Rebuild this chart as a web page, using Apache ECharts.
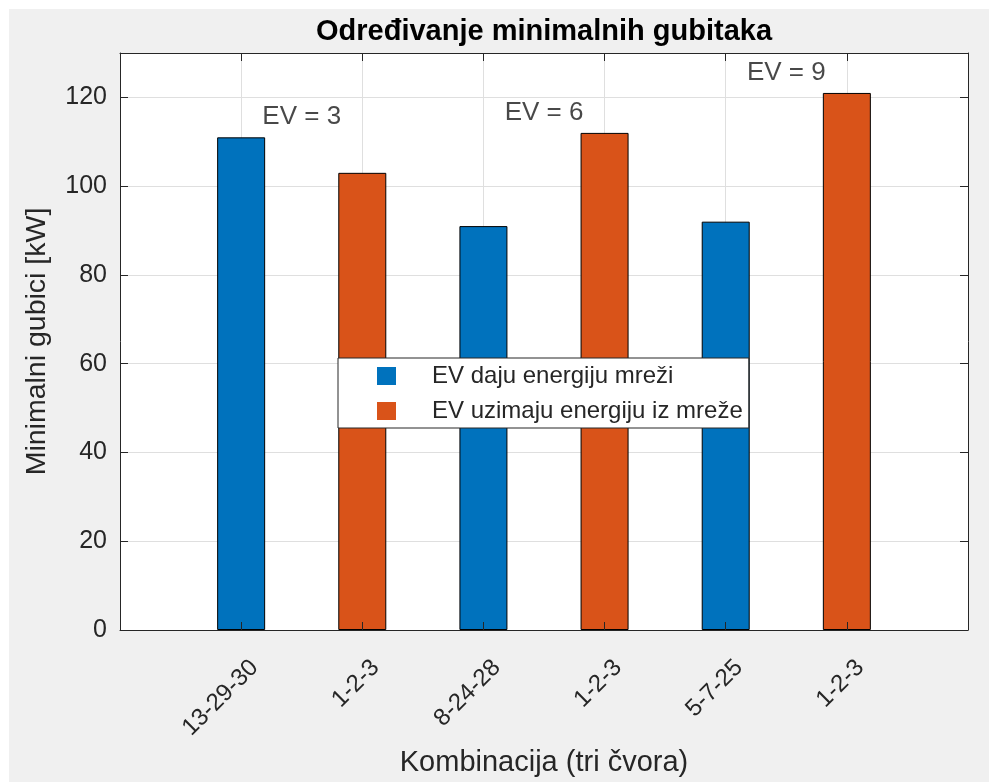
<!DOCTYPE html>
<html lang="hr">

<head>
    <meta charset="UTF-8">
    <title>Određivanje minimalnih gubitaka</title>
    <script src="https://cdn.jsdelivr.net/npm/echarts@6/dist/echarts.min.js"></script>
    <style>
        html, body { margin: 0; padding: 0; background: #fff; }
        #main { position: absolute; left: 9px; top: 9px; width: 980px; height: 773px; }
    </style>
</head>

<body>
    <div id="main"></div>

    <script>
        // podaci
        const combos = ['13-29-30', '1-2-3', '8-24-28', '1-2-3', '5-7-25', '1-2-3'];
        const losses = [111, 103, 91, 112, 92, 121];
        const direction = [0, 1, 0, 1, 0, 1]; // 0 = daju, 1 = uzimaju
        const seriesNames = ['EV daju energiju mreži', 'EV uzimaju energiju iz mreže'];
        const seriesColors = ['#0072BD', '#D95319'];
        const evLabels = ['EV = 3', 'EV = 6', 'EV = 9'];
        const evX = [1.2, 3.2, 5.2];
        const evY = [116, 117, 126];

        const FONT = 'Liberation Sans, Arial, Helvetica, sans-serif';
        const AX = '#262626';

        function barData(k) {
            let out = [];
            for (let i = 0; i < losses.length; i++) {
                if (direction[i] === k) out.push([i + 1, losses[i]]);
            }
            return out;
        }

        let chart = echarts.init(document.getElementById('main'));

        // osi samo za kvacice (iznad stupaca)
        const tickAxis = {
            type: 'value', min: 0, max: 7, interval: 1, z: 5,
            axisLine: { show: true, onZero: false, lineStyle: { color: AX, width: 1 } },
            axisTick: { show: true, inside: true, length: 8, lineStyle: { color: AX } },
            axisLabel: { show: false }, splitLine: { show: false }
        };
        const yTickAxis = {
            type: 'value', min: 0, max: 130, interval: 20, z: 5,
            axisLine: { show: true, onZero: false, lineStyle: { color: AX, width: 1 } },
            axisTick: { show: true, inside: true, length: 8, lineStyle: { color: AX } },
            axisLabel: { show: false }, splitLine: { show: false }
        };

        let option = {
            animation: false,
            backgroundColor: '#f0f0f0',
            title: {
                text: 'Određivanje minimalnih gubitaka',
                left: 302,
                top: 3,
                textStyle: { fontFamily: FONT, fontSize: 29, fontWeight: 'bold', color: '#000' }
            },
            grid: {
                left: 111, top: 44, right: 21, bottom: 149,
                show: true, backgroundColor: '#fff', borderWidth: 0
            },
            legend: {
                data: seriesNames,
                orient: 'vertical',
                left: 329,
                top: 349,
                padding: [6, 6, 5, 39],
                itemWidth: 19,
                itemHeight: 18,
                itemGap: 11,
                icon: 'rect',
                itemStyle: { borderWidth: 0 },
                backgroundColor: '#fff',
                borderColor: AX,
                borderWidth: 1,
                textStyle: { fontFamily: FONT, fontSize: 24, color: AX, padding: [0, 0, 0, 31] }
            },
            xAxis: [
                {
                    type: 'value', min: 0, max: 7, interval: 1, z: 0,
                    axisLine: { show: false, onZero: false }, axisTick: { show: false }, axisLabel: { show: false },
                    splitLine: { show: true, lineStyle: { color: '#dfdfdf', width: 1 } },
                    name: 'Kombinacija (tri čvora)',
                    nameLocation: 'middle',
                    nameGap: 118,
                    nameTextStyle: { fontFamily: FONT, fontSize: 29, color: AX }
                },
                Object.assign({}, tickAxis, { position: 'bottom' }),
                Object.assign({}, tickAxis, { position: 'top' }),
                {
                    // oznake kombinacija, pomaknute udesno kao u MATLAB-u
                    type: 'value', min: -0.11, max: 6.89, position: 'bottom',
                    axisLine: { show: false, onZero: false }, axisTick: { show: false }, splitLine: { show: false },
                    axisLabel: {
                        show: true,
                        customValues: [1, 2, 3, 4, 5, 6],
                        rotate: 45,
                        margin: 34,
                        fontFamily: FONT, fontSize: 24, color: AX,
                        formatter: function (v) { return combos[Math.round(v) - 1] || ''; }
                    }
                }
            ],
            yAxis: [
                {
                    type: 'value', min: 0, max: 130, interval: 20, z: 0,
                    axisLine: { show: false, onZero: false }, axisTick: { show: false },
                    splitLine: { show: true, lineStyle: { color: '#dfdfdf', width: 1 } },
                    axisLabel: {
                        margin: 13, fontFamily: FONT, fontSize: 25, color: AX,
                        showMaxLabel: false
                    },
                    name: 'Minimalni gubici [kW]',
                    nameLocation: 'middle',
                    nameGap: 68,
                    nameTextStyle: { fontFamily: FONT, fontSize: 28.5, color: AX }
                },
                Object.assign({}, yTickAxis, { position: 'left' }),
                Object.assign({}, yTickAxis, { position: 'right' })
            ],
            series: [
                {
                    name: seriesNames[0], type: 'bar', barWidth: 48, barGap: '-100%',
                    itemStyle: { color: seriesColors[0], borderColor: '#000', borderWidth: 1 },
                    data: barData(0)
                },
                {
                    name: seriesNames[1], type: 'bar', barWidth: 48, barGap: '-100%',
                    itemStyle: { color: seriesColors[1], borderColor: '#000', borderWidth: 1 },
                    data: barData(1)
                },
                {
                    type: 'scatter', symbolSize: 0, z: 6,
                    label: {
                        show: true, position: 'right', distance: 0, offset: [-3, 2],
                        fontFamily: FONT, fontSize: 26, color: '#1a1a1a',
                        formatter: function (p) { return p.data[2]; }
                    },
                    data: evX.map(function (x, i) { return [x, evY[i], evLabels[i]]; })
                }
            ]
        };
        chart.setOption(option);
    </script>
</body>

</html>
